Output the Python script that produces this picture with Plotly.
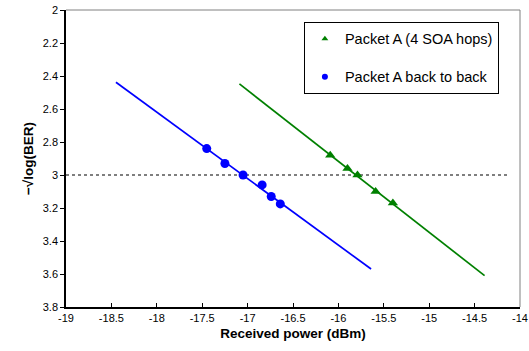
import plotly.graph_objects as go

# Measured points
b2b_x = [-17.45, -17.25, -17.05, -16.84, -16.74, -16.64]
b2b_y = [2.84, 2.93, 3.00, 3.06, 3.13, 3.175]
soa_x = [-16.09, -15.90, -15.79, -15.59, -15.40]
soa_y = [2.88, 2.96, 3.00, 3.10, 3.17]

# Fit lines (endpoints)
b2b_fit_x = [-18.45, -15.64]
b2b_fit_y = [2.438, 3.57]
soa_fit_x = [-17.09, -14.39]
soa_fit_y = [2.448, 3.61]

# Error-floor reference line
ref_x = [-19, -14.13]
ref_y = [3.0, 3.0]

x_ticks = [-19, -18.5, -18, -17.5, -17, -16.5, -16, -15.5, -15, -14.5, -14]
y_ticks = [2, 2.2, 2.4, 2.6, 2.8, 3, 3.2, 3.4, 3.6, 3.8]

GREEN = "#008000"
BLUE = "#0000FF"

fig = go.Figure()
fig.add_trace(go.Scatter(x=ref_x, y=ref_y, mode="lines",
                         line=dict(color="black", width=1.2, dash="dot"),
                         showlegend=False, hoverinfo="skip"))
fig.add_trace(go.Scatter(x=b2b_fit_x, y=b2b_fit_y, mode="lines",
                         line=dict(color=BLUE, width=1.7), showlegend=False))
fig.add_trace(go.Scatter(x=soa_fit_x, y=soa_fit_y, mode="lines",
                         line=dict(color=GREEN, width=1.7), showlegend=False))
fig.add_trace(go.Scatter(x=soa_x, y=soa_y, mode="markers",
                         marker=dict(symbol="triangle-up", color=GREEN, size=9),
                         showlegend=False))
fig.add_trace(go.Scatter(x=b2b_x, y=b2b_y, mode="markers",
                         marker=dict(symbol="circle", color=BLUE, size=9),
                         showlegend=False))
# Legend entries (smaller symbols, as in the original legend)
fig.add_trace(go.Scatter(x=[None], y=[None], mode="markers",
                         marker=dict(symbol="triangle-up", color=GREEN, size=6),
                         name="Packet A (4 SOA hops)", legendgroup="a"))
fig.add_trace(go.Scatter(x=[None], y=[None], mode="markers",
                         marker=dict(symbol="circle", color=BLUE, size=6),
                         name="Packet A back to back", legendgroup="b"))

fig.update_layout(
    width=529, height=351,
    margin=dict(l=66, r=9, t=10, b=44, autoexpand=False),
    paper_bgcolor="white", plot_bgcolor="white",
    font=dict(family="Liberation Sans, Arial, sans-serif", size=11, color="black"),
    legend=dict(x=0.524, y=0.96, xanchor="left", yanchor="top",
                bordercolor="black", borderwidth=1, bgcolor="white",
                font=dict(size=14.5), traceorder="grouped", tracegroupgap=16,
                itemsizing="trace"),
    xaxis=dict(range=[-19, -14], tickvals=x_ticks, ticktext=[str(v) for v in x_ticks],
               showgrid=False, zeroline=False, showline=True, linecolor="black",
               linewidth=1.5, ticks="inside", ticklen=4, tickcolor="black",
               tickfont=dict(size=11), mirror=False, automargin=False,
               ticklabeloverflow="allow",
               title=dict(text="<b>Received power (dBm)</b>", font=dict(size=13.5), standoff=6)),
    yaxis=dict(range=[3.8, 2], tickvals=y_ticks, ticktext=[f"{v:g}" for v in y_ticks],
               showgrid=False, zeroline=False, showline=True, linecolor="black",
               linewidth=1.5, ticks="outside", ticklen=4, tickcolor="black",
               automargin=False, ticklabeloverflow="allow",
               title=dict(text="<b>−√log(BER)</b>", font=dict(size=13.5), standoff=6)),
    shapes=[dict(type="line", xref="paper", yref="paper", x0=0, x1=1, y0=1, y1=1,
                 line=dict(color="#808080", width=1)),
            dict(type="line", xref="paper", yref="paper", x0=1, x1=1, y0=0, y1=1,
                 line=dict(color="#808080", width=1))],
)

fig.write_html("out.html",
               config={"displayModeBar": False},
               post_script="document.body.style.margin='0';document.body.style.overflow='hidden';")
